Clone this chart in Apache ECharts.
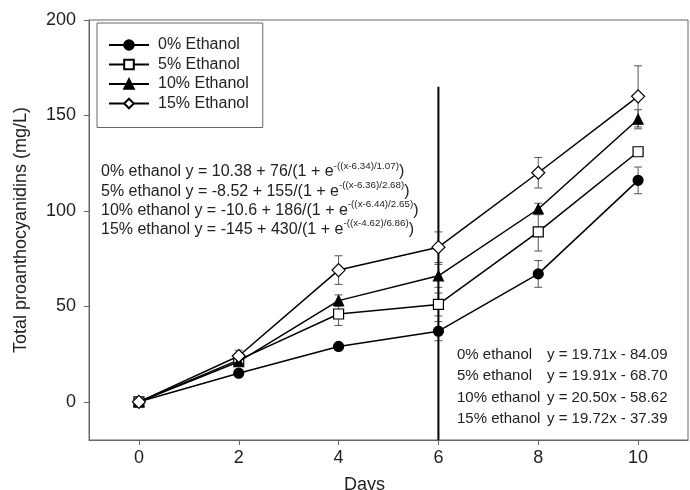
<!DOCTYPE html>
<html><head><meta charset="utf-8">
<script src="https://cdn.jsdelivr.net/npm/echarts@6/dist/echarts.min.js"></script>
<style>html,body{margin:0;padding:0;background:#fff}#c{width:690px;height:490px}</style>
</head><body><div id="c"></div>
<script>
const days = [0, 2, 4, 6, 8, 10];
const names = ['0% Ethanol', '5% Ethanol', '10% Ethanol', '15% Ethanol'];
const v0 = [0, 15, 29, 37, 67, 116];
const v5 = [0, 22, 46, 51, 89, 131];
const v10 = [0, 21, 53, 66, 101, 148];
const v15 = [0, 24, 69, 81, 120, 160];
const e0 = [1, 1.5, 1.5, 5, 7, 7];
const e5 = [1, 2, 6, 6, 10, 2];
const e10 = [1, 2, 3, 6, 3, 5];
const e15 = [1, 3, 7.5, 8, 8, 16];
const xTicks = [0, 2, 4, 6, 8, 10];
const yTicks = [0, 50, 100, 150, 200];
const vLineX = [6, 6];
const vLineY = [-20, 165];
const sigmoidEqs = [
  ['0% ethanol y = 10.38 + 76/(1 + e', '-((x-6.34)/1.07)', ')'],
  ['5% ethanol y = -8.52 + 155/(1 + e', '-((x-6.36)/2.68)', ')'],
  ['10% ethanol y = -10.6 + 186/(1 + e', '-((x-6.44)/2.65)', ')'],
  ['15% ethanol y = -145 + 430/(1 + e', '-((x-4.62)/6.86)', ')']
];
const linLabels = ['0% ethanol', '5% ethanol', '10% ethanol', '15% ethanol'];
const linEqs = ['y = 19.71x - 84.09', 'y = 19.91x - 68.70', 'y = 20.50x - 58.62', 'y = 19.72x - 37.39'];

const vals = [v0, v5, v10, v15];
const errs = [e0, e5, e10, e15];
const symbols = ['circle', 'rect', 'triangle', 'diamond'];
const symSizes = [10, 10, 10, 13];
const fills = ['#000', '#fff', '#000', '#fff'];
const FONT = '"Liberation Sans", Arial, sans-serif';

const chart = echarts.init(document.getElementById('c'), null, {renderer: 'canvas'});
const series = [];
vals.forEach((v, si) => {
  series.push({
    type: 'custom',
    silent: true,
    z: 1,
    data: days.map((d, i) => [d, v[i] - errs[si][i], v[i] + errs[si][i]]),
    renderItem: function (params, api) {
      const lo = api.coord([api.value(0), api.value(1)]);
      const hi = api.coord([api.value(0), api.value(2)]);
      const w = 4;
      const st = {stroke: '#555', lineWidth: 1};
      return {type: 'group', children: [
        {type: 'line', shape: {x1: lo[0], y1: lo[1], x2: hi[0], y2: hi[1]}, style: st},
        {type: 'line', shape: {x1: lo[0] - w, y1: lo[1], x2: lo[0] + w, y2: lo[1]}, style: st},
        {type: 'line', shape: {x1: hi[0] - w, y1: hi[1], x2: hi[0] + w, y2: hi[1]}, style: st}
      ]};
    }
  });
});
series.push({
  type: 'line', name: 'vline', silent: true, z: 2, symbol: 'none',
  data: vLineX.map((x, i) => [x, vLineY[i]]),
  lineStyle: {color: '#000', width: 2}
});
vals.forEach((v, si) => {
  series.push({
    type: 'line', name: names[si], z: 3 + si,
    data: days.map((d, i) => [d, v[i]]),
    symbol: symbols[si], symbolSize: symSizes[si], showAllSymbol: true,
    itemStyle: {color: fills[si], borderColor: '#000', borderWidth: 1.2},
    lineStyle: {color: '#000', width: 1.5},
    emphasis: {disabled: true}
  });
});

const graphics = [];
sigmoidEqs.forEach((eq, i) => {
  graphics.push({
    type: 'text', left: 101, top: 161 + i * 19.2, silent: true,
    style: {
      text: '{m|' + eq[0] + '}{s|' + eq[1] + '}{m|' + eq[2] + '}',
      rich: {
        m: {fontSize: 16, fontFamily: FONT, fill: '#222', lineHeight: 19, verticalAlign: 'bottom'},
        s: {fontSize: 9.8, fontFamily: FONT, fill: '#222', lineHeight: 19, verticalAlign: 'top'}
      }
    }
  });
});
linLabels.forEach((t, i) => {
  graphics.push({type: 'text', left: 457, top: 347.5 + i * 21.3, silent: true,
    style: {text: t, fontSize: 15, fontFamily: FONT, fill: '#222'}});
  graphics.push({type: 'text', left: 547, top: 347.5 + i * 21.3, silent: true,
    style: {text: linEqs[i], fontSize: 15, fontFamily: FONT, fill: '#222'}});
});

chart.setOption({
  animation: false,
  backgroundColor: '#fff',
  grid: {left: 89, top: 20, width: 599, height: 420, show: true, borderColor: '#666', borderWidth: 1,
         containLabel: false, outerBoundsMode: 'none'},
  legend: {
    data: names, orient: 'vertical', left: 97, top: 23,
    itemWidth: 40, itemHeight: 12, itemGap: 3.5,
    padding: [14, 14, 16, 11],
    borderColor: '#666', borderWidth: 1,
    lineStyle: {width: 2},
    textStyle: {fontSize: 16, fontFamily: FONT, color: '#222', padding: [0, 0, 0, 4]},
    selectedMode: false
  },
  xAxis: {
    type: 'value', min: -1, max: 11, interval: 1,
    name: 'Days', nameLocation: 'middle', nameGap: 36,
    nameTextStyle: {fontSize: 18, fontFamily: FONT, color: '#222', padding: [0, 48, 0, 0]},
    axisLine: {onZero: false, lineStyle: {color: '#666'}},
    axisTick: {length: 5, customValues: xTicks, lineStyle: {color: '#666'}},
    axisLabel: {customValues: xTicks, fontSize: 18, fontFamily: FONT, color: '#222', margin: 9},
    splitLine: {show: false}
  },
  yAxis: {
    type: 'value', min: -20, max: 200, interval: 10,
    name: 'Total proanthocyanidins (mg/L)', nameLocation: 'middle', nameGap: 59,
    nameTextStyle: {fontSize: 18, fontFamily: FONT, color: '#222'},
    axisLine: {show: true, onZero: false, lineStyle: {color: '#666'}},
    axisTick: {show: true, length: 5, customValues: yTicks, lineStyle: {color: '#666'}},
    axisLabel: {customValues: yTicks, fontSize: 18, fontFamily: FONT, color: '#222', margin: 13},
    splitLine: {show: false}
  },
  graphic: graphics,
  series: series
});
</script></body></html>
